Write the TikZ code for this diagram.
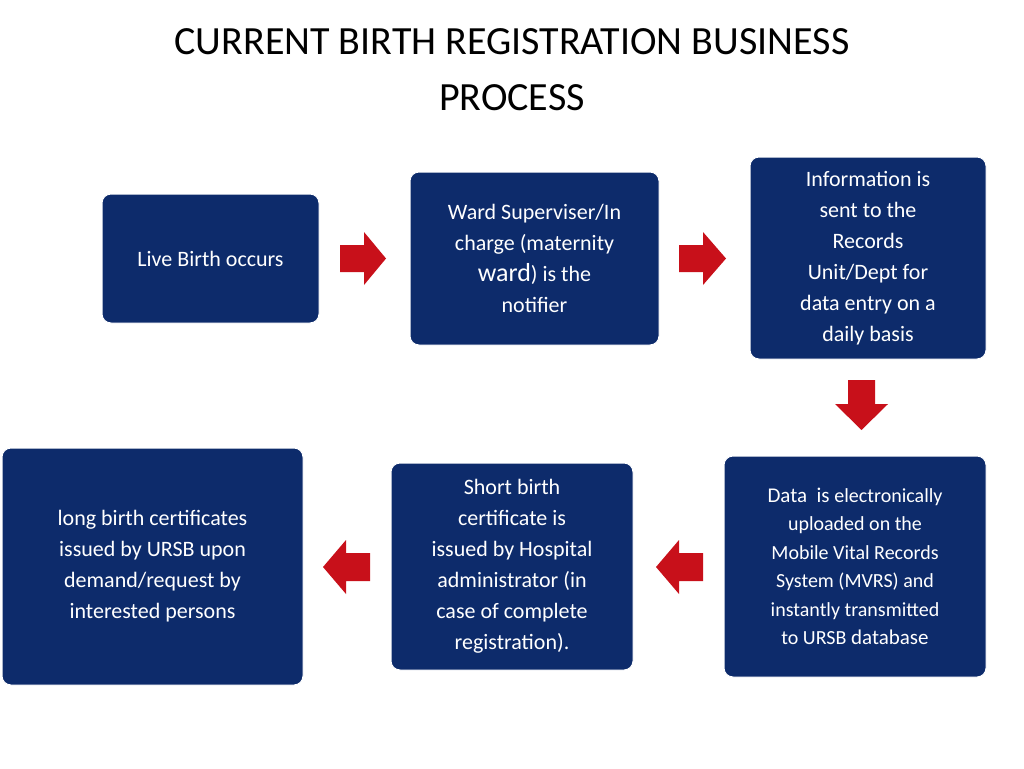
\documentclass[tikz,border=0pt]{standalone}
\usepackage{fontspec}
\setmainfont{Carlito}
\begin{document}
\begin{tikzpicture}[x=1pt,y=-1pt,
 box/.style={draw=white,line width=1pt,fill=navy,rounded corners=9pt,text=white,align=center,font=\fontsize{22}{31}\selectfont,inner sep=0pt},
 rarrow/.style={fill=arrowred,draw=none}]
\definecolor{navy}{HTML}{0D2B6B}
\definecolor{arrowred}{HTML}{C8101A}
\useasboundingbox (0,0) rectangle (1024,768);
\node[font=\fontsize{40}{56}\selectfont,align=center] (title) at (512,70) {CURRENT BIRTH REGISTRATION BUSINESS\\PROCESS};
\draw[box] (102,194) rectangle (319,323) node[midway] (b1) {Live Birth occurs};
\draw[box] (410,172) rectangle (659,345) node[midway] (b2) {Ward Superviser/In\\charge (maternity\\{\fontsize{26}{31}\selectfont ward}) is the\\notifier};
\draw[box] (750,157) rectangle (986,359) node[midway] (b3) {Information is\\sent to the\\Records\\Unit/Dept for\\data entry on a\\daily basis};
\draw[box] (724,456) rectangle (986,677) node[midway,font=\fontsize{21}{28.5}\selectfont] (b4) {Data \ is {\fontsize{20}{28}\selectfont electronically}\\{\fontsize{20}{28}\selectfont uploaded on the}\\{\fontsize{20}{28}\selectfont Mobile Vital Records}\\{\fontsize{20}{28}\selectfont System (MVRS) and}\\{\fontsize{20}{28}\selectfont instantly transmitted}\\{\fontsize{20}{28}\selectfont to URSB} database};
\draw[box] (391,463) rectangle (633,670) node[midway] (b5) {Short birth\\certificate is\\issued by Hospital\\administrator (in\\case of complete\\registration).};
\draw[box] (2,448) rectangle (303,685) node[midway] (b6) {long birth certificates\\issued by URSB upon\\demand/request by\\interested persons};
% block arrows
\fill[rarrow] (340,245) -- (364,245) -- (364,232) -- (386,258.5) -- (364,285) -- (364,272) -- (340,272) -- cycle;
\fill[rarrow] (679,245) -- (703,245) -- (703,232) -- (726,258.5) -- (703,285) -- (703,272) -- (679,272) -- cycle;
\fill[rarrow] (848,380) -- (875,380) -- (875,404) -- (888,404) -- (861.5,430) -- (835,404) -- (848,404) -- cycle;
\fill[rarrow] (703,553) -- (679,553) -- (679,540) -- (656,567) -- (679,594) -- (679,581) -- (703,581) -- cycle;
\fill[rarrow] (370,553) -- (346,553) -- (346,540) -- (323,567) -- (346,594) -- (346,581) -- (370,581) -- cycle;
\end{tikzpicture}
\end{document}
